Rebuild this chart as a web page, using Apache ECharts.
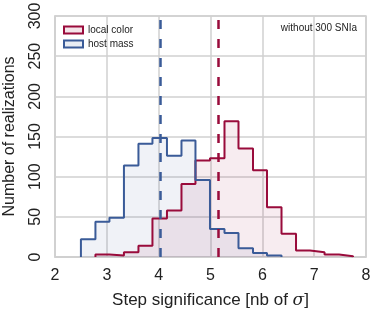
<!DOCTYPE html>
<html>
<head>
<meta charset="utf-8">
<script src="https://cdn.jsdelivr.net/npm/echarts@6/dist/echarts.min.js"></script>
<style>
html,body{margin:0;padding:0;background:#fff;}
#chart{width:373px;height:314px;}
</style>
</head>
<body>
<div id="chart"></div>
<script>
// Histogram bin edges (nb of sigma)
var binEdges = [2.50, 2.78, 3.05, 3.33, 3.61, 3.88, 4.16, 4.44, 4.71, 4.99,
                5.27, 5.54, 5.82, 6.09, 6.37, 6.65, 6.92, 7.20, 7.48, 7.75];
// host mass: counts for bins starting at bin index 0
var hostMassFirstBin = 0;
var hostMassCounts = [22, 44, 49, 114, 141, 148, 126, 145, 96, 35, 30, 11, 5, 2];
// local color: counts for bins starting at bin index 1
var localColorFirstBin = 1;
var localColorCounts = [3, 2, 6, 14, 48, 58, 91, 120, 123, 169, 135, 108, 62, 29, 8, 6, 3, 1];
// mean step significance (dashed lines)
var hostMassMean = 4.04;
var localColorMean = 5.15;

var xTicks = [2, 3, 4, 5, 6, 7, 8];
var yTicks = [0, 50, 100, 150, 200, 250, 300];
var seriesNames = ['local color', 'host mass'];
var annotation = 'without 300 SNIa';

function stepPoints(first, counts) {
  var pts = [[binEdges[first], 0]];
  for (var i = 0; i < counts.length; i++) {
    pts.push([binEdges[first + i], counts[i]]);
  }
  pts.push([binEdges[first + counts.length], 0]);
  return pts;
}

var RED = '#990b3b';
var BLUE = '#3a5b98';
var RED_FILL = 'rgba(153,11,59,0.11)';
var BLUE_FILL = 'rgba(58,91,152,0.11)';
var GRIDC = '#d0d0d0';
var FONT = 'Liberation Sans, Arial, sans-serif';

var chart = echarts.init(document.getElementById('chart'), null, {renderer: 'canvas'});
chart.setOption({
  animation: false,
  textStyle: {fontFamily: FONT},
  grid: {left: 55, right: 7, top: 16, bottom: 57, show: true, borderColor: GRIDC, borderWidth: 1.5,
         containLabel: false, outerBoundsMode: 'none'},
  legend: {
    left: 63, top: 25, padding: 0, orient: 'vertical', itemWidth: 19, itemHeight: 7, itemGap: 4,
    icon: 'rect',
    textStyle: {fontSize: 10, color: '#222', fontFamily: FONT},
    data: [
      {name: seriesNames[0], itemStyle: {color: RED_FILL, borderColor: RED, borderWidth: 2}},
      {name: seriesNames[1], itemStyle: {color: BLUE_FILL, borderColor: BLUE, borderWidth: 2}}
    ]
  },
  graphic: [{
    type: 'text', right: 16, top: 23,
    style: {text: annotation, fontSize: 10, fill: '#222', fontFamily: FONT}
  }],
  xAxis: {
    type: 'value', min: xTicks[0], max: xTicks[xTicks.length - 1], interval: 1,
    axisLine: {show: true, lineStyle: {color: GRIDC, width: 1.5}},
    axisTick: {show: false},
    splitLine: {show: true, lineStyle: {color: GRIDC, width: 1.5}},
    axisLabel: {fontSize: 16, color: '#222', margin: 11, fontFamily: FONT},
    name: 'Step significance [nb of {i|σ}]',
    nameLocation: 'middle', nameGap: 35,
    nameTextStyle: {fontSize: 17, color: '#222', fontFamily: FONT,
      rich: {i: {fontSize: 17, fontStyle: 'italic', color: '#222', fontFamily: 'DejaVu Serif'}}}
  },
  yAxis: {
    type: 'value', min: yTicks[0], max: yTicks[yTicks.length - 1], interval: 50,
    axisLine: {show: true, lineStyle: {color: GRIDC, width: 1.5}},
    axisTick: {show: false},
    splitLine: {show: true, lineStyle: {color: GRIDC, width: 1.5}},
    axisLabel: {fontSize: 16, color: '#222', margin: 11, rotate: 90, fontFamily: FONT},
    name: 'Number of realizations',
    nameLocation: 'middle', nameGap: 37,
    nameTextStyle: {fontSize: 16, color: '#222', fontFamily: FONT}
  },
  series: [
    {
      name: seriesNames[0], type: 'line', step: 'end', symbol: 'none',
      data: stepPoints(localColorFirstBin, localColorCounts),
      lineStyle: {color: RED, width: 2},
      itemStyle: {color: RED},
      areaStyle: {color: RED_FILL, origin: 0},
      markLine: {
        silent: true, symbol: 'none', label: {show: false},
        lineStyle: {color: RED, width: 2.5, type: [9, 10]},
        data: [{xAxis: localColorMean}]
      }
    },
    {
      name: seriesNames[1], type: 'line', step: 'end', symbol: 'none',
      data: stepPoints(hostMassFirstBin, hostMassCounts),
      lineStyle: {color: BLUE, width: 2},
      itemStyle: {color: BLUE},
      areaStyle: {color: BLUE_FILL, origin: 0},
      markLine: {
        silent: true, symbol: 'none', label: {show: false},
        lineStyle: {color: BLUE, width: 2.5, type: [9, 10]},
        data: [{xAxis: hostMassMean}]
      }
    }
  ]
});
</script>
</body>
</html>
